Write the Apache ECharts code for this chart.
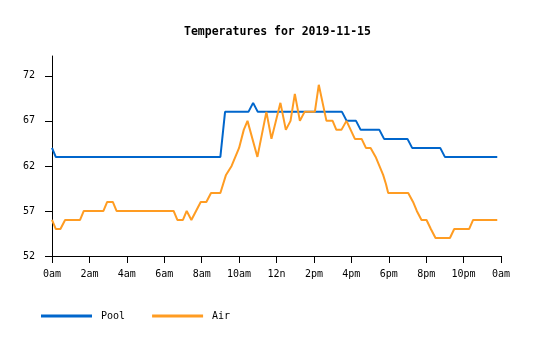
<!DOCTYPE html>
<html>
<head>
<meta charset="utf-8">
<script src="https://cdn.jsdelivr.net/npm/echarts@6/dist/echarts.min.js"></script>
<style>html,body{margin:0;padding:0;background:#fff;}#c{width:535px;height:340px;}</style>
</head>
<body>
<div id="c"></div>
<script>
const titleText = 'Temperatures for 2019-11-15';
const tickLabels = ['0am','2am','4am','6am','8am','10am','12n','2pm','4pm','6pm','8pm','10pm','0am'];
const yTicks = [52, 57, 62, 67, 72];

const poolHours = [0, 0.2, 9.0, 9.25, 10.5, 10.75, 11.0, 15.5, 15.75, 16.25, 16.5, 17.5, 17.75, 19.0, 19.25, 20.75, 21.0, 23.8];
const poolTemps = [64, 63, 63, 68, 68, 69, 68, 68, 67, 67, 66, 66, 65, 65, 64, 64, 63, 63];

const airHours = [0, 0.2, 0.45, 0.7, 1.5, 1.7, 2.75, 2.95, 3.25, 3.45, 6.5, 6.7, 7.0, 7.2, 7.45, 7.7, 7.95, 8.25, 8.5, 9.0, 9.3, 9.6, 10.0, 10.25, 10.45, 10.98, 11.46, 11.73, 12.21, 12.5, 12.75, 12.98, 13.25, 13.5, 14.05, 14.26, 14.67, 15.0, 15.2, 15.47, 15.74, 16.19, 16.55, 16.78, 17.03, 17.3, 17.5, 17.7, 17.85, 17.97, 19.04, 19.3, 19.5, 19.75, 20.02, 20.25, 20.5, 21.27, 21.5, 22.3, 22.51, 23.8];
const airTemps = [56, 55, 55, 56, 56, 57, 57, 58, 58, 57, 57, 56, 56, 57, 56, 57, 58, 58, 59, 59, 61, 62, 64, 66, 67, 63, 68, 65, 69, 66, 67, 70, 67, 68, 68, 71, 67, 67, 66, 66, 67, 65, 65, 64, 64, 63, 62, 61, 60, 59, 59, 58, 57, 56, 56, 55, 54, 54, 55, 55, 56, 56];

const font = 'DejaVu Sans Mono';
const pool = poolHours.map((h, i) => [h, poolTemps[i]]);
const air = airHours.map((h, i) => [h, airTemps[i]]);

const chart = echarts.init(document.getElementById('c'), null, {renderer: 'canvas'});
chart.setOption({
  animation: false,
  backgroundColor: '#fff',
  title: {
    text: titleText,
    left: 179,
    top: 21,
    textStyle: {fontFamily: font, fontSize: 11.5, fontWeight: 'bold', color: '#000'}
  },
  legend: {
    left: 36,
    top: 306,
    itemWidth: 51,
    itemHeight: 3,
    itemGap: 27,
    icon: 'rect',
    textStyle: {fontFamily: font, fontSize: 10, color: '#000', padding: [0, 0, 0, 4]},
    data: ['Pool', 'Air']
  },
  grid: {left: 52, right: 34, top: 56, bottom: 84, containLabel: false},
  xAxis: {
    type: 'value',
    min: 0, max: 24, interval: 2,
    axisLine: {lineStyle: {color: '#000', width: 1}},
    axisTick: {length: 7, lineStyle: {color: '#000'}},
    splitLine: {show: false},
    axisLabel: {
      margin: 13,
      fontFamily: font, fontSize: 10, color: '#000',
      formatter: v => tickLabels[Math.round(v / 2)]
    }
  },
  yAxis: {
    type: 'value',
    min: 52, max: 74.2,
    axisLine: {show: true, lineStyle: {color: '#000', width: 1}},
    axisTick: {show: true, length: 7, customValues: yTicks, lineStyle: {color: '#000'}},
    splitLine: {show: false},
    axisLabel: {
      margin: 17,
      fontFamily: font, fontSize: 10, color: '#000',
      customValues: yTicks
    }
  },
  series: [
    {name: 'Pool', type: 'line', data: pool, showSymbol: false, color: '#0066cc', lineStyle: {width: 2}},
    {name: 'Air', type: 'line', data: air, showSymbol: false, color: '#ff9c22', lineStyle: {width: 2}}
  ]
});
</script>
</body>
</html>
